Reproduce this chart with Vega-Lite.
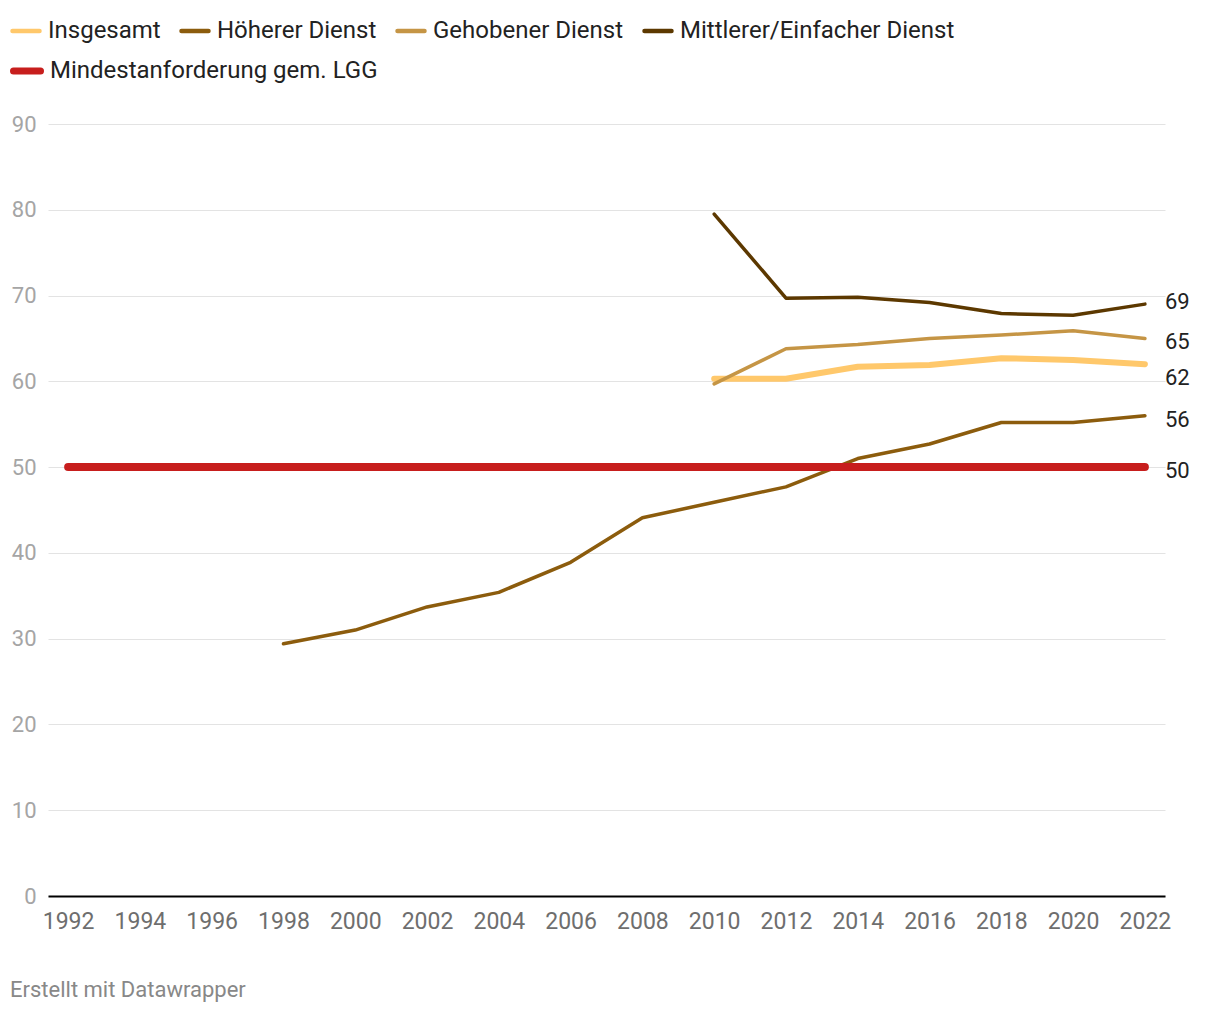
{
  "$schema": "https://vega.github.io/schema/vega-lite/v6.json",
  "width": 1117,
  "height": 772,
  "autosize": {"type": "none"},
  "padding": {"left": 48, "top": 124, "right": 55, "bottom": 116},
  "background": "white",
  "config": {
    "font": "Roboto",
    "view": {"stroke": null}
  },
  "title": {
    "text": "Erstellt mit Datawrapper",
    "orient": "bottom",
    "anchor": "start",
    "frame": "group",
    "dx": -38,
    "offset": 47,
    "fontSize": 22,
    "fontWeight": "normal",
    "color": "#888888",
    "font": "Roboto"
  },
  "data": {
    "values": [
      {"year": 2010, "series": "Insgesamt", "value": 60.3},
      {"year": 2012, "series": "Insgesamt", "value": 60.3},
      {"year": 2014, "series": "Insgesamt", "value": 61.7},
      {"year": 2016, "series": "Insgesamt", "value": 61.9},
      {"year": 2018, "series": "Insgesamt", "value": 62.7},
      {"year": 2020, "series": "Insgesamt", "value": 62.5},
      {"year": 2022, "series": "Insgesamt", "value": 62.0},
      {"year": 1998, "series": "Höherer Dienst", "value": 29.4},
      {"year": 2000, "series": "Höherer Dienst", "value": 31.0},
      {"year": 2002, "series": "Höherer Dienst", "value": 33.7},
      {"year": 2004, "series": "Höherer Dienst", "value": 35.4},
      {"year": 2006, "series": "Höherer Dienst", "value": 38.9},
      {"year": 2008, "series": "Höherer Dienst", "value": 44.1},
      {"year": 2010, "series": "Höherer Dienst", "value": 45.9},
      {"year": 2012, "series": "Höherer Dienst", "value": 47.7},
      {"year": 2014, "series": "Höherer Dienst", "value": 51.0},
      {"year": 2016, "series": "Höherer Dienst", "value": 52.7},
      {"year": 2018, "series": "Höherer Dienst", "value": 55.2},
      {"year": 2020, "series": "Höherer Dienst", "value": 55.2},
      {"year": 2022, "series": "Höherer Dienst", "value": 56.0},
      {"year": 2010, "series": "Gehobener Dienst", "value": 59.7},
      {"year": 2012, "series": "Gehobener Dienst", "value": 63.8},
      {"year": 2014, "series": "Gehobener Dienst", "value": 64.3},
      {"year": 2016, "series": "Gehobener Dienst", "value": 65.0},
      {"year": 2018, "series": "Gehobener Dienst", "value": 65.4},
      {"year": 2020, "series": "Gehobener Dienst", "value": 65.9},
      {"year": 2022, "series": "Gehobener Dienst", "value": 65.0},
      {"year": 2010, "series": "Mittlerer/Einfacher Dienst", "value": 79.5},
      {"year": 2012, "series": "Mittlerer/Einfacher Dienst", "value": 69.7},
      {"year": 2014, "series": "Mittlerer/Einfacher Dienst", "value": 69.8},
      {"year": 2016, "series": "Mittlerer/Einfacher Dienst", "value": 69.2},
      {"year": 2018, "series": "Mittlerer/Einfacher Dienst", "value": 67.9},
      {"year": 2020, "series": "Mittlerer/Einfacher Dienst", "value": 67.7},
      {"year": 2022, "series": "Mittlerer/Einfacher Dienst", "value": 69.0},
      {"year": 1992, "series": "Mindestanforderung gem. LGG", "value": 50},
      {"year": 2022, "series": "Mindestanforderung gem. LGG", "value": 50}
    ]
  },
  "encoding": {
    "x": {
      "field": "year",
      "type": "quantitative",
      "scale": {"domain": [1991.44, 2022.56], "nice": false, "zero": false},
      "axis": {
        "title": null,
        "values": [1992, 1994, 1996, 1998, 2000, 2002, 2004, 2006, 2008, 2010, 2012, 2014, 2016, 2018, 2020, 2022],
        "format": "d",
        "grid": false,
        "ticks": false,
        "domain": true,
        "domainColor": "#000000",
        "domainWidth": 2,
        "labelFontSize": 23,
        "labelColor": "#6e6e6e",
        "labelPadding": 14,
        "labelFont": "Roboto"
      }
    },
    "y": {
      "field": "value",
      "type": "quantitative",
      "scale": {"domain": [0, 90], "nice": false},
      "axis": {
        "title": null,
        "values": [0, 10, 20, 30, 40, 50, 60, 70, 80, 90],
        "grid": true,
        "gridColor": "#e3e3e3",
        "gridWidth": 1,
        "ticks": false,
        "domain": false,
        "labelFontSize": 22,
        "labelColor": "#a5a5a5",
        "labelPadding": 12,
        "labelFont": "Roboto"
      }
    }
  },
  "resolve": {"scale": {"color": "independent"}},
  "layer": [
    {
      "transform": [{"filter": "datum.series != 'Mindestanforderung gem. LGG'"}],
      "mark": {"type": "line", "strokeCap": "round", "strokeJoin": "round"},
      "encoding": {
        "color": {
          "field": "series",
          "type": "nominal",
          "sort": null,
          "scale": {
            "domain": ["Insgesamt", "Höherer Dienst", "Gehobener Dienst", "Mittlerer/Einfacher Dienst"],
            "range": ["#ffc86b", "#8c5c0d", "#c59545", "#5c3800"]
          },
          "legend": {
            "title": null,
            "orient": "none",
            "legendX": -38,
            "legendY": -109,
            "direction": "horizontal",
            "columnPadding": 11,
            "symbolType": "stroke",
            "symbolSize": 729,
            "symbolStrokeWidth": 4.5,
            "labelFontSize": 24,
            "labelColor": "#222222",
            "labelOffset": 6,
            "labelFont": "Roboto",
            "labelLimit": 500,
            "encode": {"symbols": {"update": {"strokeCap": {"value": "round"}}}}
          }
        },
        "strokeWidth": {
          "condition": {"test": "datum.series == 'Insgesamt'", "value": 6},
          "value": 3.5
        },
        "order": {"field": "year", "type": "quantitative"}
      }
    },
    {
      "transform": [{"filter": "datum.series == 'Mindestanforderung gem. LGG'"}],
      "mark": {"type": "line", "strokeCap": "round", "strokeWidth": 8},
      "encoding": {
        "color": {
          "field": "series",
          "type": "nominal",
          "scale": {
            "domain": ["Mindestanforderung gem. LGG"],
            "range": ["#c71e1d"]
          },
          "legend": {
            "title": null,
            "orient": "none",
            "legendX": -38,
            "legendY": -70,
            "direction": "horizontal",
            "symbolType": "stroke",
            "symbolSize": 729,
            "symbolStrokeWidth": 7,
            "labelFontSize": 24,
            "labelColor": "#222222",
            "labelOffset": 6,
            "labelFont": "Roboto",
            "labelLimit": 500,
            "encode": {"symbols": {"update": {"strokeCap": {"value": "round"}}}}
          }
        },
        "order": {"field": "year", "type": "quantitative"}
      }
    },
    {
      "transform": [{"filter": "datum.year == 2022 && datum.series != 'Insgesamt' && datum.series != 'Mittlerer/Einfacher Dienst'"}],
      "mark": {"type": "text", "align": "left", "baseline": "middle", "dx": 20, "dy": 4, "fontSize": 22, "color": "#222222", "font": "Roboto"},
      "encoding": {
        "text": {"field": "value", "type": "quantitative", "format": ".0f"}
      }
    },
    {
      "transform": [{"filter": "datum.year == 2022 && datum.series == 'Mittlerer/Einfacher Dienst'"}],
      "mark": {"type": "text", "align": "left", "baseline": "middle", "dx": 20, "dy": -2, "fontSize": 22, "color": "#222222", "font": "Roboto"},
      "encoding": {
        "text": {"field": "value", "type": "quantitative", "format": ".0f"}
      }
    },
    {
      "transform": [{"filter": "datum.year == 2022 && datum.series == 'Insgesamt'"}],
      "mark": {"type": "text", "align": "left", "baseline": "middle", "dx": 20, "dy": 14, "fontSize": 22, "color": "#222222", "font": "Roboto"},
      "encoding": {
        "text": {"field": "value", "type": "quantitative", "format": ".0f"}
      }
    }
  ]
}
